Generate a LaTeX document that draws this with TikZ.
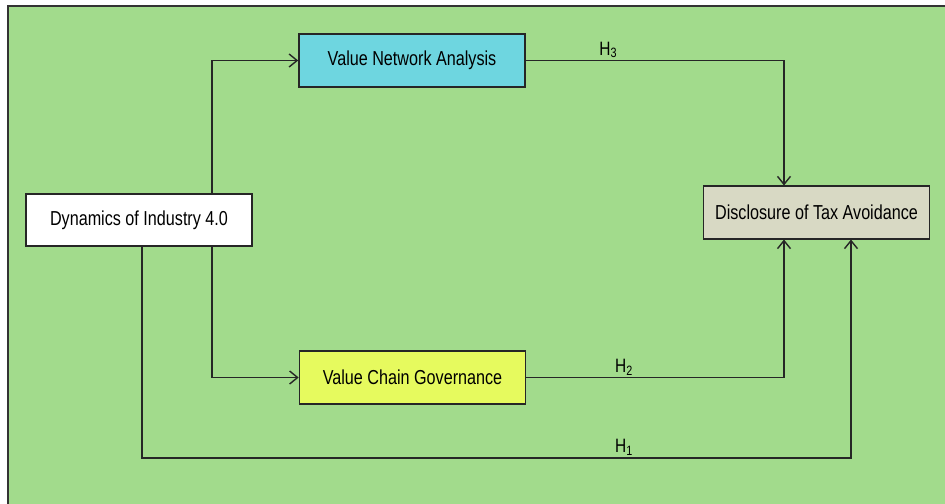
\documentclass[tikz,border=0pt]{standalone}
\usepackage{fontspec}
\setmainfont[FakeStretch=0.8]{Liberation Sans}
\usepackage{xcolor}
\usetikzlibrary{arrows.meta,positioning,calc}

\definecolor{bggreen}{HTML}{A2DB8C}
\definecolor{netcyan}{HTML}{6ED6E0}
\definecolor{chainyellow}{HTML}{E6FA5E}
\definecolor{disgrey}{HTML}{D8D9C4}

\begin{document}
\begin{tikzpicture}[
    font=\fontsize{11.5}{13}\selectfont,
    box/.style={rectangle, draw=black!85, line width=0.9pt, minimum width=4.52cm, minimum height=1.05cm, inner sep=2pt},
    arrow/.style={-{Straight Barb[length=1.6mm,width=2.6mm]}, line width=0.8pt, draw=black!85},
    hyp/.style={font=\fontsize{11}{13}\selectfont, inner sep=1pt, anchor=south}
]
    \clip (0,0) rectangle (18.9,10.06);
    \fill[white] (0,0) rectangle (18.9,10.06);
    \draw[fill=bggreen, draw=black!80, line width=1.2pt] (0.16,-0.5) rectangle (19.5,9.94);

    \node[box, fill=white] (dyn) at (2.78,5.66) {Dynamics of Industry 4.0};
    \node[box, fill=netcyan] (vna) at (8.24,8.85) {Value Network Analysis};
    \node[box, fill=chainyellow] (vcg) at (8.25,2.51) {Value Chain Governance};
    \node[box, fill=disgrey] (dta) at (16.33,5.81) {Disclosure of Tax Avoidance};

    % paths out of Dynamics of Industry 4.0
    \draw[arrow] (dyn.north -| 4.24,0) |- (vna.west);
    \draw[arrow] (dyn.south -| 4.24,0) |- (vcg.west);

    % hypotheses into the disclosure box
    \draw[arrow] (vna.east) -| (dta.north -| 15.68,0)
        node[hyp, pos=0.16] (h3) {H\textsubscript{3}};
    \draw[arrow] (vcg.east) -| (dta.south -| 15.68,0)
        node[hyp, pos=0.19] (h2) {H\textsubscript{2}};
    \coordinate (corner) at (2.84,0.9);
    \draw[arrow] (dyn.south -| corner) -- (corner) -| (dta.south -| 17.02,0)
        node[hyp, pos=0.34] (h1) {H\textsubscript{1}};
\end{tikzpicture}
\end{document}
